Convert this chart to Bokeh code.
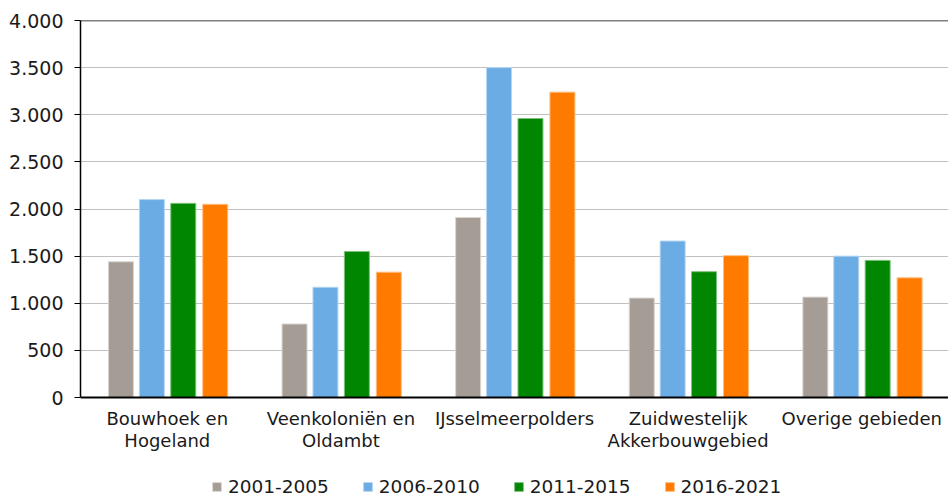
from bokeh.plotting import figure
from bokeh.models import (ColumnDataSource, FactorRange, Range1d, Span, Legend, LegendItem,
                          FixedTicker)
from bokeh.core.properties import value
from bokeh.transform import dodge
from bokeh.embed import file_html
from bokeh.resources import INLINE

regions = ["Bouwhoek en Hogeland", "Veenkoloniën en Oldambt", "IJsselmeerpolders",
           "Zuidwestelijk Akkerbouwgebied", "Overige gebieden"]
label_line1 = ["Bouwhoek en", "Veenkoloniën en", "IJsselmeerpolders", "Zuidwestelijk", "Overige gebieden"]
label_line2 = ["Hogeland", "Oldambt", "", "Akkerbouwgebied", ""]
series = ["2001-2005", "2006-2010", "2011-2015", "2016-2021"]
v_2001_2005 = [1440, 780, 1910, 1055, 1065]
v_2006_2010 = [2100, 1170, 3500, 1660, 1500]
v_2011_2015 = [2060, 1550, 2960, 1335, 1455]
v_2016_2021 = [2050, 1330, 3240, 1505, 1270]
y_ticks = [0, 500, 1000, 1500, 2000, 2500, 3000, 3500, 4000]
y_tick_labels = ["0", "500", "1.000", "1.500", "2.000", "2.500", "3.000", "3.500", "4.000"]

colors = ["#A59D95", "#6BACE4", "#008600", "#FF7B00"]
outlines = ["#D9D5D1", "#B4D6F2", "#7FC27F", "#FFBD80"]
FONT = "DejaVu Sans"
TXT = "#1a1a1a"

src = ColumnDataSource(dict(region=regions, s0=v_2001_2005, s1=v_2006_2010,
                            s2=v_2011_2015, s3=v_2016_2021,
                            line1=label_line1, line2=label_line2, base=[0] * len(regions)))

# the frame reaches down to the bottom of the canvas so that the category labels
# and the legend can be drawn inside it, below the zero line
p = figure(x_range=FactorRange(*regions, range_padding=0), y_range=Range1d(-1061, 4000),
           width=948, height=497, output_backend="svg", toolbar_location=None,
           min_border_left=80, min_border_right=0, min_border_top=20, min_border_bottom=0)
p.outline_line_color = None
p.background_fill_color = "white"
p.xaxis.visible = False

offsets = [-0.267, -0.089, 0.092, 0.276]
renderers = []
for i, key in enumerate(["s0", "s1", "s2", "s3"]):
    r = p.vbar(x=dodge("region", offsets[i], range=p.x_range), top=key, bottom=0, source=src,
               width=0.144, fill_color=colors[i], line_color=outlines[i], line_width=1)
    renderers.append(r)

p.xgrid.grid_line_color = None
p.ygrid.grid_line_color = "#C0C0C0"
p.ygrid.grid_line_width = 1

p.add_layout(Span(location=4000, dimension="width", line_color="#000000", line_width=1.5))
p.add_layout(Span(location=0, dimension="width", line_color="#000000", line_width=2))

p.yaxis.ticker = FixedTicker(ticks=y_ticks)
p.yaxis.bounds = (0, 4000)
p.yaxis.major_label_overrides = {t: l for t, l in zip(y_ticks, y_tick_labels)}
p.yaxis.axis_line_color = "#000000"
p.yaxis.axis_line_width = 1.5
p.yaxis.major_tick_line_color = "#000000"
p.yaxis.major_tick_in = 0
p.yaxis.major_tick_out = 6
p.yaxis.minor_tick_line_color = None
p.yaxis.major_label_text_font = FONT
p.yaxis.major_label_text_font_size = "19px"
p.yaxis.major_label_text_color = TXT
p.yaxis.major_label_standoff = 11

# category labels, two lines, just below the zero line
p.text(x="region", y="base", text="line1", source=src, y_offset=21,
       text_align="center", text_baseline="middle", text_font=value(FONT),
       text_font_size="18px", text_color=TXT)
p.text(x="region", y="base", text="line2", source=src, y_offset=43,
       text_align="center", text_baseline="middle", text_font=value(FONT),
       text_font_size="18px", text_color=TXT)

legend = Legend(items=[LegendItem(label=s, renderers=[r]) for s, r in zip(series, renderers)],
                orientation="horizontal", location=(131, 0),
                label_text_font=FONT, label_text_font_size="18.5px",
                label_text_color=TXT, glyph_width=11, glyph_height=11,
                label_standoff=6, spacing=33, border_line_color=None,
                background_fill_alpha=0, padding=0)
p.add_layout(legend, "center")

open("out.html", "w").write(file_html(p, INLINE))
